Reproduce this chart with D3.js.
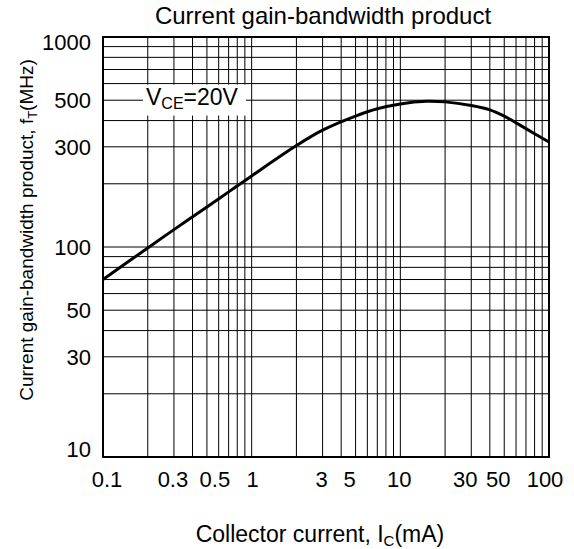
<!DOCTYPE html>
<html>
<head>
<meta charset="utf-8">
<script src="https://cdn.jsdelivr.net/npm/d3@7"></script>
<style>
  body { margin: 0; background: #fff; }
  svg { display: block; font-family: "Liberation Sans", Arial, sans-serif; }
</style>
</head>
<body>
<svg id="chart" width="574" height="549"></svg>
<script>
// collector current (mA) vs fT (MHz)
var current = [0.1, 0.2, 0.3, 0.5, 0.7, 1, 2, 3, 5, 7, 10, 15, 20, 30, 40, 50, 70, 100];
var ft      = [70, 99, 121, 155, 183, 218, 304, 360, 420, 455, 480, 494, 491, 472, 450, 420, 366, 316];

var xTicks = [0.1, 0.3, 0.5, 1, 3, 5, 10, 30, 50, 100];
var yTicks = [10, 30, 50, 100, 300, 500, 1000];

var plotL = 103, plotR = 549, plotT = 37, plotB = 457;
// the printed x labels sit a little off their grid lines
var xLabelNudge = [4, -1, 8, 1, -1, -6, -1, -6, -6, -4];

var svg = d3.select("#chart");

var x = d3.scaleLog().domain([0.1, 100]).range([plotL, plotR]);
var y = d3.scaleLog().domain([10, 1000]).range([plotB, plotT]);

// grid: every 1..9 of each decade
var xGrid = [], yGrid = [];
[0.1, 1, 10].forEach(function (d) {
  for (var k = 1; k < 10; k++) xGrid.push(d * k);
});
xGrid.push(100);
[10, 100].forEach(function (d) {
  for (var k = 1; k < 10; k++) yGrid.push(d * k);
});
yGrid.push(1000);

var grid = svg.append("g").attr("stroke", "#000").attr("stroke-width", 1);
grid.selectAll(".vx").data(xGrid).enter().append("line")
  .attr("x1", function (d) { return x(d); })
  .attr("x2", function (d) { return x(d); })
  .attr("y1", plotT).attr("y2", plotB);
grid.selectAll(".hy").data(yGrid).enter().append("line")
  .attr("y1", function (d) { return y(d); })
  .attr("y2", function (d) { return y(d); })
  .attr("x1", plotL).attr("x2", plotR);

// label box for VCE, knocks out the grid behind it
svg.append("rect")
  .attr("x", plotL + 40).attr("width", 103)
  .attr("y", y(600) + 1).attr("height", y(400) - y(600) - 6)
  .attr("fill", "#fff");
var vce = svg.append("text")
  .attr("x", plotL + 43).attr("y", y(500) + 5)
  .attr("font-size", 23).attr("fill", "#000");
vce.append("tspan").text("V");
vce.append("tspan").attr("font-size", 16).attr("dy", 4).text("CE");
vce.append("tspan").attr("dy", -4).text("=20V");

// frame
svg.append("rect")
  .attr("x", plotL).attr("y", plotT)
  .attr("width", plotR - plotL).attr("height", plotB - plotT)
  .attr("fill", "none").attr("stroke", "#000").attr("stroke-width", 2);

// curve
var line = d3.line()
  .x(function (d, i) { return x(current[i]); })
  .y(function (d) { return y(d); })
  .curve(d3.curveCatmullRom.alpha(0.5));
svg.append("path")
  .attr("d", line(ft))
  .attr("fill", "none").attr("stroke", "#000").attr("stroke-width", 3);

// x tick labels
svg.append("g").selectAll("text").data(xTicks).enter().append("text")
  .attr("x", function (d) { return x(d); })
  .attr("dx", function (d, i) { return xLabelNudge[i]; })
  .attr("y", 487)
  .attr("text-anchor", "middle")
  .attr("font-size", 22)
  .text(function (d) { return d; });

// y tick labels (end labels pulled inside the frame, as in the original)
svg.append("g").selectAll("text").data(yTicks).enter().append("text")
  .attr("x", plotL - 12)
  .attr("y", function (d) { return y(d); })
  .attr("dy", function (d, i) { return i == 0 ? "-0.02em" : (i == yTicks.length - 1 ? "0.6em" : "0.35em"); })
  .attr("text-anchor", "end")
  .attr("font-size", 22)
  .text(function (d) { return d; });

// title
svg.append("text")
  .attr("x", (plotL + plotR) / 2 - 3).attr("y", 24)
  .attr("text-anchor", "middle").attr("font-size", 24)
  .text("Current gain-bandwidth product");

// x axis title
var xt = svg.append("text")
  .attr("x", 320).attr("y", 542)
  .attr("text-anchor", "middle").attr("font-size", 23);
xt.append("tspan").text("Collector current, I");
xt.append("tspan").attr("font-size", 15).attr("dy", 4).text("C");
xt.append("tspan").attr("dy", -4).text("(mA)");

// y axis title
var yt = svg.append("text")
  .attr("transform", "translate(33,230) rotate(-90)")
  .attr("text-anchor", "middle").attr("font-size", 19);
yt.append("tspan").text("Current gain-bandwidth product,  f");
yt.append("tspan").attr("font-size", 13).attr("dy", 4).text("T");
yt.append("tspan").attr("dy", -4).text("(MHz)");
</script>
</body>
</html>
